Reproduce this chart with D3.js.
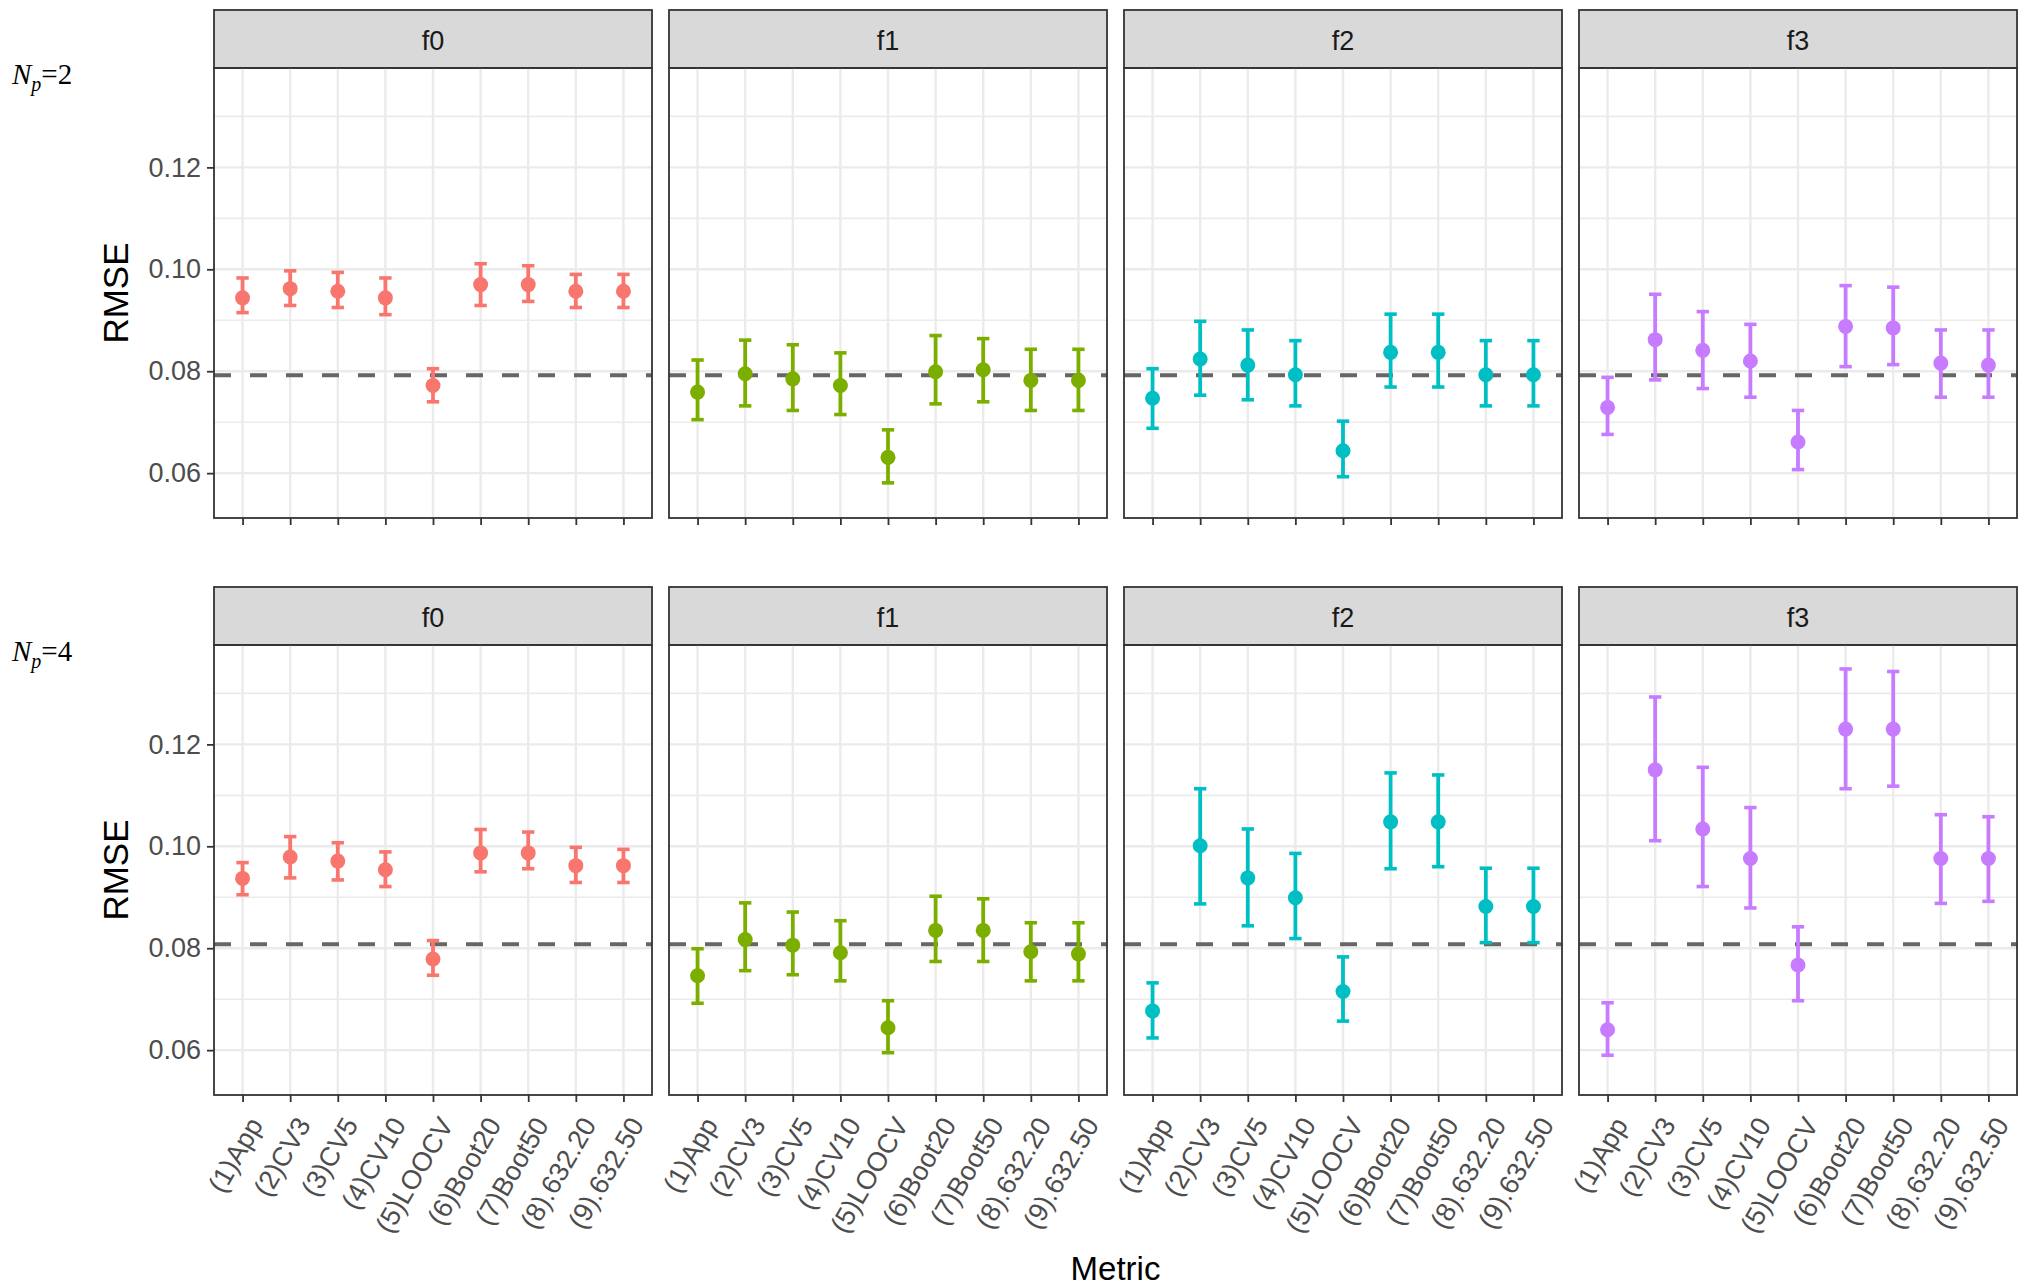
<!DOCTYPE html>
<html>
<head>
<meta charset="utf-8">
<script src="https://cdn.jsdelivr.net/npm/d3@7"></script>
<style>
  body { margin: 0; background: #fff; }
  svg text { font-family: "Liberation Sans", Arial, sans-serif; }
</style>
</head>
<body>
<div id="chart"></div>
<script>
// categories
const metrics = ["(1)App", "(2)CV3", "(3)CV5", "(4)CV10", "(5)LOOCV",
  "(6)Boot20", "(7)Boot50", "(8).632.20", "(9).632.50"];
const facets = ["f0", "f1", "f2", "f3"];
const colors = ["#F8766D", "#7CAE00", "#00BFC4", "#C77CFF"];
const npLabels = ["2", "4"];
const refLine = [0.0792, 0.0808];
const yTicks = [0.06, 0.08, 0.10, 0.12];
const yMinor = [0.07, 0.09, 0.11, 0.13];

// N_p = 2 : one array per facet (f0..f3)
const np2Mean = [
  [0.0944, 0.0962, 0.0957, 0.0944, 0.0772, 0.0970, 0.0970, 0.0957, 0.0957],
  [0.0759, 0.0795, 0.0785, 0.0772, 0.0631, 0.0799, 0.0803, 0.0782, 0.0782],
  [0.0747, 0.0824, 0.0812, 0.0793, 0.0644, 0.0837, 0.0837, 0.0793, 0.0793],
  [0.0729, 0.0862, 0.0841, 0.0820, 0.0661, 0.0888, 0.0885, 0.0816, 0.0812]
];
const np2Upper = [
  [0.0983, 0.0997, 0.0994, 0.0983, 0.0805, 0.1011, 0.1007, 0.0990, 0.0990],
  [0.0822, 0.0861, 0.0852, 0.0836, 0.0685, 0.0870, 0.0864, 0.0843, 0.0843],
  [0.0805, 0.0898, 0.0881, 0.0860, 0.0702, 0.0912, 0.0912, 0.0860, 0.0860],
  [0.0788, 0.0951, 0.0917, 0.0892, 0.0723, 0.0968, 0.0965, 0.0881, 0.0881]
];
const np2Lower = [
  [0.0915, 0.0929, 0.0925, 0.0911, 0.0740, 0.0929, 0.0937, 0.0925, 0.0925],
  [0.0705, 0.0732, 0.0723, 0.0715, 0.0581, 0.0736, 0.0740, 0.0723, 0.0723],
  [0.0688, 0.0753, 0.0744, 0.0732, 0.0593, 0.0769, 0.0769, 0.0732, 0.0732],
  [0.0676, 0.0783, 0.0766, 0.0749, 0.0607, 0.0809, 0.0813, 0.0749, 0.0749]
];

// N_p = 4
const np4Mean = [
  [0.0937, 0.0979, 0.0971, 0.0954, 0.0779, 0.0987, 0.0987, 0.0962, 0.0962],
  [0.0746, 0.0817, 0.0806, 0.0791, 0.0644, 0.0835, 0.0835, 0.0793, 0.0789],
  [0.0677, 0.1001, 0.0938, 0.0899, 0.0715, 0.1048, 0.1048, 0.0882, 0.0882],
  [0.0640, 0.1150, 0.1034, 0.0976, 0.0767, 0.1230, 0.1230, 0.0976, 0.0976]
];
const np4Upper = [
  [0.0968, 0.1019, 0.1007, 0.0989, 0.0815, 0.1033, 0.1028, 0.0998, 0.0994],
  [0.0799, 0.0889, 0.0871, 0.0854, 0.0697, 0.0902, 0.0897, 0.0850, 0.0850],
  [0.0732, 0.1113, 0.1034, 0.0986, 0.0783, 0.1144, 0.1140, 0.0957, 0.0957],
  [0.0693, 0.1293, 0.1155, 0.1076, 0.0842, 0.1348, 0.1343, 0.1062, 0.1058]
];
const np4Lower = [
  [0.0905, 0.0938, 0.0934, 0.0921, 0.0747, 0.0950, 0.0956, 0.0929, 0.0929],
  [0.0692, 0.0756, 0.0748, 0.0736, 0.0595, 0.0774, 0.0774, 0.0736, 0.0736],
  [0.0624, 0.0887, 0.0844, 0.0819, 0.0657, 0.0956, 0.0960, 0.0811, 0.0811],
  [0.0590, 0.1011, 0.0921, 0.0879, 0.0697, 0.1113, 0.1118, 0.0888, 0.0892]
];

const rowsData = [
  { mean: np2Mean, upper: np2Upper, lower: np2Lower },
  { mean: np4Mean, upper: np4Upper, lower: np4Lower }
];

const W = 2033, H = 1287;
const svg = d3.select("#chart").append("svg")
  .attr("width", W).attr("height", H);

// layout
const panelLeft = 214, panelW = 438, panelGap = 17;
const rowTop = [10, 587];
const stripH = 58, panelH = 450;

const yScale = d3.scaleLinear().domain([0.0512, 0.1395]).range([panelH, 0]);
const xScale = d3.scalePoint().domain(metrics).range([0, panelW]).padding(0.6);
const capW = xScale.step() * 0.26;

rowsData.forEach((rd, r) => {
  const top = rowTop[r] + stripH;

  facets.forEach((f, i) => {
    const x0 = panelLeft + i * (panelW + panelGap);

    // strip
    svg.append("rect")
      .attr("x", x0).attr("y", rowTop[r])
      .attr("width", panelW).attr("height", stripH)
      .attr("fill", "#D9D9D9").attr("stroke", "#333").attr("stroke-width", 1.8);
    svg.append("text")
      .attr("x", x0 + panelW / 2).attr("y", rowTop[r] + stripH / 2 + 2)
      .attr("text-anchor", "middle").attr("dominant-baseline", "central")
      .attr("font-size", 27).attr("fill", "#1A1A1A")
      .text(f);

    const g = svg.append("g").attr("transform", `translate(${x0},${top})`);

    // grid
    g.selectAll(".ymin").data(yMinor).enter().append("line")
      .attr("x1", 0).attr("x2", panelW)
      .attr("y1", d => yScale(d)).attr("y2", d => yScale(d))
      .attr("stroke", "#EBEBEB").attr("stroke-width", 1.6);
    g.selectAll(".ymaj").data(yTicks).enter().append("line")
      .attr("x1", 0).attr("x2", panelW)
      .attr("y1", d => yScale(d)).attr("y2", d => yScale(d))
      .attr("stroke", "#EBEBEB").attr("stroke-width", 2.4);
    g.selectAll(".xmaj").data(metrics).enter().append("line")
      .attr("x1", d => xScale(d)).attr("x2", d => xScale(d))
      .attr("y1", 0).attr("y2", panelH)
      .attr("stroke", "#EBEBEB").attr("stroke-width", 2.4);

    // reference line
    g.append("line")
      .attr("x1", 0).attr("x2", panelW)
      .attr("y1", yScale(refLine[r])).attr("y2", yScale(refLine[r]))
      .attr("stroke", "#666").attr("stroke-width", 4)
      .attr("stroke-dasharray", "17,19");

    // error bars + points
    const pts = metrics.map((m, k) => ({
      m, mean: rd.mean[i][k], lo: rd.lower[i][k], hi: rd.upper[i][k]
    }));
    const eb = g.selectAll(".eb").data(pts).enter().append("g");
    eb.append("line")
      .attr("x1", d => xScale(d.m)).attr("x2", d => xScale(d.m))
      .attr("y1", d => yScale(d.lo)).attr("y2", d => yScale(d.hi))
      .attr("stroke", colors[i]).attr("stroke-width", 3.8);
    eb.append("line")
      .attr("x1", d => xScale(d.m) - capW / 2).attr("x2", d => xScale(d.m) + capW / 2)
      .attr("y1", d => yScale(d.hi)).attr("y2", d => yScale(d.hi))
      .attr("stroke", colors[i]).attr("stroke-width", 3.6);
    eb.append("line")
      .attr("x1", d => xScale(d.m) - capW / 2).attr("x2", d => xScale(d.m) + capW / 2)
      .attr("y1", d => yScale(d.lo)).attr("y2", d => yScale(d.lo))
      .attr("stroke", colors[i]).attr("stroke-width", 3.6);
    eb.append("circle")
      .attr("cx", d => xScale(d.m)).attr("cy", d => yScale(d.mean))
      .attr("r", 7.5).attr("fill", colors[i]);

    // panel border
    g.append("rect")
      .attr("width", panelW).attr("height", panelH)
      .attr("fill", "none").attr("stroke", "#333").attr("stroke-width", 1.8);

    // x axis ticks (labels on bottom row only)
    const xAxis = g.append("g").attr("transform", `translate(0,${panelH})`)
      .call(d3.axisBottom(xScale).tickSize(7).tickSizeOuter(0).tickPadding(8));
    xAxis.select(".domain").remove();
    xAxis.selectAll(".tick line").attr("stroke", "#333").attr("stroke-width", 1.8);
    if (r === 0) {
      xAxis.selectAll(".tick text").remove();
    } else {
      xAxis.selectAll(".tick text")
        .attr("font-size", 27).attr("fill", "#4D4D4D")
        .attr("text-anchor", "end")
        .attr("dy", null)
        .attr("dominant-baseline", "central")
        .attr("transform", "translate(13,25) rotate(-60)")
        .attr("y", 0).attr("x", 0);
    }

    // y axis on first panel
    if (i === 0) {
      const yAxis = g.append("g")
        .call(d3.axisLeft(yScale).tickValues(yTicks).tickSize(7).tickPadding(6)
          .tickFormat(d3.format(".2f")));
      yAxis.select(".domain").remove();
      yAxis.selectAll(".tick line").attr("stroke", "#333").attr("stroke-width", 1.8);
      yAxis.selectAll(".tick text").attr("font-size", 27).attr("fill", "#4D4D4D");
    }
  });

  // y title
  svg.append("text")
    .attr("transform", `translate(128,${top + panelH / 2}) rotate(-90)`)
    .attr("text-anchor", "middle")
    .attr("font-size", 35).attr("fill", "#000")
    .text("RMSE");

  // N_p label
  const np = svg.append("text")
    .attr("x", 12).attr("y", rowTop[r] + 74)
    .style("font-family", "'Liberation Serif', 'Times New Roman', serif")
    .attr("font-size", 29).attr("fill", "#000");
  np.append("tspan").attr("font-style", "italic").text("N");
  np.append("tspan").attr("font-style", "italic").attr("font-size", 20)
    .attr("dy", 7).text("p");
  np.append("tspan").attr("dy", -7).text("=" + npLabels[r]);
});

// x title
svg.append("text")
  .attr("x", panelLeft + (4 * panelW + 3 * panelGap) / 2).attr("y", 1280)
  .attr("text-anchor", "middle")
  .attr("font-size", 33).attr("fill", "#000")
  .text("Metric");
</script>
</body>
</html>
